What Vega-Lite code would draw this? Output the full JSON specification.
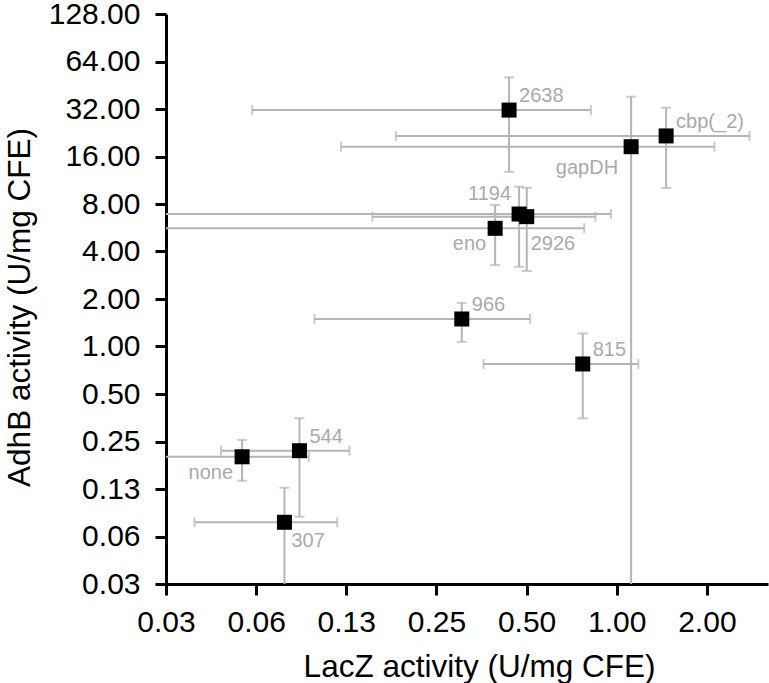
{
  "$schema": "https://vega.github.io/schema/vega-lite/v6.json",
  "width": 602,
  "height": 570,
  "autosize": {"type": "none"},
  "padding": {"left": 166, "top": 14, "right": 1, "bottom": 99},
  "background": "white",
  "config": {
    "view": {"stroke": null},
    "axis": {
      "domainColor": "black", "domainWidth": 3,
      "tickColor": "black", "tickWidth": 3, "tickSize": 11,
      "grid": false,
      "labelFont": "Liberation Sans", "labelFontSize": 30, "labelColor": "black",
      "labelOverlap": false, "labelFlush": false,
      "titleFont": "Liberation Sans", "titleFontSize": 31.5, "titleFontWeight": "normal", "titleColor": "black"
    }
  },
  "data": {
    "values": [
      {"label": "none", "x": 0.0561, "xlo": 0.0185, "xhi": 0.0937, "y": 0.200, "ylo": 0.141, "yhi": 0.256},
      {"label": "544", "x": 0.0872, "xlo": 0.0477, "xhi": 0.128, "y": 0.2186, "ylo": 0.0834, "yhi": 0.351},
      {"label": "307", "x": 0.0777, "xlo": 0.0389, "xhi": 0.1166, "y": 0.0769, "ylo": 0.0264, "yhi": 0.1274},
      {"label": "966", "x": 0.3038, "xlo": 0.0979, "xhi": 0.514, "y": 1.494, "ylo": 1.07, "yhi": 1.89},
      {"label": "815", "x": 0.770, "xlo": 0.359, "xhi": 1.181, "y": 0.775, "ylo": 0.351, "yhi": 1.21},
      {"label": "eno", "x": 0.3926, "xlo": 0.006, "xhi": 0.779, "y": 5.61, "ylo": 3.28, "yhi": 7.88},
      {"label": "1194", "x": 0.472, "xlo": 0.01, "xhi": 0.957, "y": 6.91, "ylo": 3.2, "yhi": 10.3},
      {"label": "2926", "x": 0.5006, "xlo": 0.1527, "xhi": 0.849, "y": 6.65, "ylo": 3.01, "yhi": 10.14},
      {"label": "2638", "x": 0.437, "xlo": 0.0606, "xhi": 0.820, "y": 31.5, "ylo": 12.8, "yhi": 50.8},
      {"label": "gapDH", "x": 1.117, "xlo": 0.12, "xhi": 2.12, "y": 18.46, "ylo": 0.01, "yhi": 38.3},
      {"label": "cbp(_2)", "x": 1.462, "xlo": 0.183, "xhi": 2.776, "y": 21.6, "ylo": 10.1, "yhi": 32.6}
    ]
  },
  "layer": [
    {
      "mark": {"type": "rule", "color": "#b5b5b5", "strokeWidth": 2, "clip": true},
      "encoding": {
        "x": {"field": "xlo", "type": "quantitative", "title": "LacZ activity (U/mg CFE)",
              "scale": {"type": "log", "base": 2, "domain": [0.03125, 3.2], "nice": false},
              "axis": {"values": [0.03125, 0.0625, 0.125, 0.25, 0.5, 1, 2], "format": ".2f", "labelPadding": 12,
                       "titleX": 313, "titleY": 92, "titleBaseline": "alphabetic", "titleAlign": "center"}},
        "x2": {"field": "xhi"},
        "y": {"field": "y", "type": "quantitative", "title": "AdhB activity (U/mg CFE)",
              "scale": {"type": "log", "base": 2, "domain": [0.03125, 128], "nice": false},
              "axis": {"values": [0.03125, 0.0625, 0.125, 0.25, 0.5, 1, 2, 4, 8, 16, 32, 64, 128], "format": ".2f", "labelPadding": 15,
                       "titleX": -137, "titleY": 293, "titleBaseline": "alphabetic", "titleAlign": "center", "titleAngle": -90}}
      }
    },
    {
      "mark": {"type": "rule", "color": "#b5b5b5", "strokeWidth": 2, "clip": true},
      "encoding": {
        "x": {"field": "x", "type": "quantitative", "title": "LacZ activity (U/mg CFE)"},
        "y": {"field": "ylo", "type": "quantitative", "title": "AdhB activity (U/mg CFE)"},
        "y2": {"field": "yhi"}
      }
    },
    {
      "mark": {"type": "tick", "orient": "vertical", "color": "#b5b5b5", "size": 10, "thickness": 2, "clip": true},
      "encoding": {
        "x": {"field": "xlo", "type": "quantitative", "title": "LacZ activity (U/mg CFE)"},
        "y": {"field": "y", "type": "quantitative", "title": "AdhB activity (U/mg CFE)"}
      }
    },
    {
      "mark": {"type": "tick", "orient": "vertical", "color": "#b5b5b5", "size": 10, "thickness": 2, "clip": true},
      "encoding": {
        "x": {"field": "xhi", "type": "quantitative", "title": "LacZ activity (U/mg CFE)"},
        "y": {"field": "y", "type": "quantitative", "title": "AdhB activity (U/mg CFE)"}
      }
    },
    {
      "mark": {"type": "tick", "orient": "horizontal", "color": "#b5b5b5", "size": 10, "thickness": 2, "clip": true},
      "encoding": {
        "x": {"field": "x", "type": "quantitative", "title": "LacZ activity (U/mg CFE)"},
        "y": {"field": "ylo", "type": "quantitative", "title": "AdhB activity (U/mg CFE)"}
      }
    },
    {
      "mark": {"type": "tick", "orient": "horizontal", "color": "#b5b5b5", "size": 10, "thickness": 2, "clip": true},
      "encoding": {
        "x": {"field": "x", "type": "quantitative", "title": "LacZ activity (U/mg CFE)"},
        "y": {"field": "yhi", "type": "quantitative", "title": "AdhB activity (U/mg CFE)"}
      }
    },
    {
      "mark": {"type": "point", "shape": "square", "filled": true, "color": "black", "size": 225, "opacity": 1, "strokeWidth": 0},
      "encoding": {
        "x": {"field": "x", "type": "quantitative", "title": "LacZ activity (U/mg CFE)"},
        "y": {"field": "y", "type": "quantitative", "title": "AdhB activity (U/mg CFE)"}
      }
    },
    {
      "transform": [{"filter": {"field": "label", "oneOf": ["2638", "cbp(_2)", "966", "815", "544"]}}],
      "mark": {"type": "text", "font": "Liberation Sans", "fontSize": 20, "color": "#aaaaaa", "align": "left", "baseline": "alphabetic", "dx": 10, "dy": -8},
      "encoding": {
        "x": {"field": "x", "type": "quantitative", "title": "LacZ activity (U/mg CFE)"},
        "y": {"field": "y", "type": "quantitative", "title": "AdhB activity (U/mg CFE)"},
        "text": {"field": "label"}
      }
    },
    {
      "transform": [{"filter": {"field": "label", "equal": "2926"}}],
      "mark": {"type": "text", "font": "Liberation Sans", "fontSize": 20, "color": "#aaaaaa", "align": "left", "baseline": "alphabetic", "dx": 4, "dy": 33},
      "encoding": {
        "x": {"field": "x", "type": "quantitative", "title": "LacZ activity (U/mg CFE)"},
        "y": {"field": "y", "type": "quantitative", "title": "AdhB activity (U/mg CFE)"},
        "text": {"field": "label"}
      }
    },
    {
      "transform": [{"filter": {"field": "label", "equal": "307"}}],
      "mark": {"type": "text", "font": "Liberation Sans", "fontSize": 20, "color": "#aaaaaa", "align": "left", "baseline": "alphabetic", "dx": 7, "dy": 25},
      "encoding": {
        "x": {"field": "x", "type": "quantitative", "title": "LacZ activity (U/mg CFE)"},
        "y": {"field": "y", "type": "quantitative", "title": "AdhB activity (U/mg CFE)"},
        "text": {"field": "label"}
      }
    },
    {
      "transform": [{"filter": {"field": "label", "equal": "1194"}}],
      "mark": {"type": "text", "font": "Liberation Sans", "fontSize": 20, "color": "#aaaaaa", "align": "right", "baseline": "alphabetic", "dx": -8, "dy": -14},
      "encoding": {
        "x": {"field": "x", "type": "quantitative", "title": "LacZ activity (U/mg CFE)"},
        "y": {"field": "y", "type": "quantitative", "title": "AdhB activity (U/mg CFE)"},
        "text": {"field": "label"}
      }
    },
    {
      "transform": [{"filter": {"field": "label", "oneOf": ["eno", "none"]}}],
      "mark": {"type": "text", "font": "Liberation Sans", "fontSize": 20, "color": "#aaaaaa", "align": "right", "baseline": "alphabetic", "dx": -9, "dy": 22},
      "encoding": {
        "x": {"field": "x", "type": "quantitative", "title": "LacZ activity (U/mg CFE)"},
        "y": {"field": "y", "type": "quantitative", "title": "AdhB activity (U/mg CFE)"},
        "text": {"field": "label"}
      }
    },
    {
      "transform": [{"filter": {"field": "label", "equal": "gapDH"}}],
      "mark": {"type": "text", "font": "Liberation Sans", "fontSize": 20, "color": "#aaaaaa", "align": "right", "baseline": "alphabetic", "dx": -13, "dy": 27},
      "encoding": {
        "x": {"field": "x", "type": "quantitative", "title": "LacZ activity (U/mg CFE)"},
        "y": {"field": "y", "type": "quantitative", "title": "AdhB activity (U/mg CFE)"},
        "text": {"field": "label"}
      }
    }
  ]
}
